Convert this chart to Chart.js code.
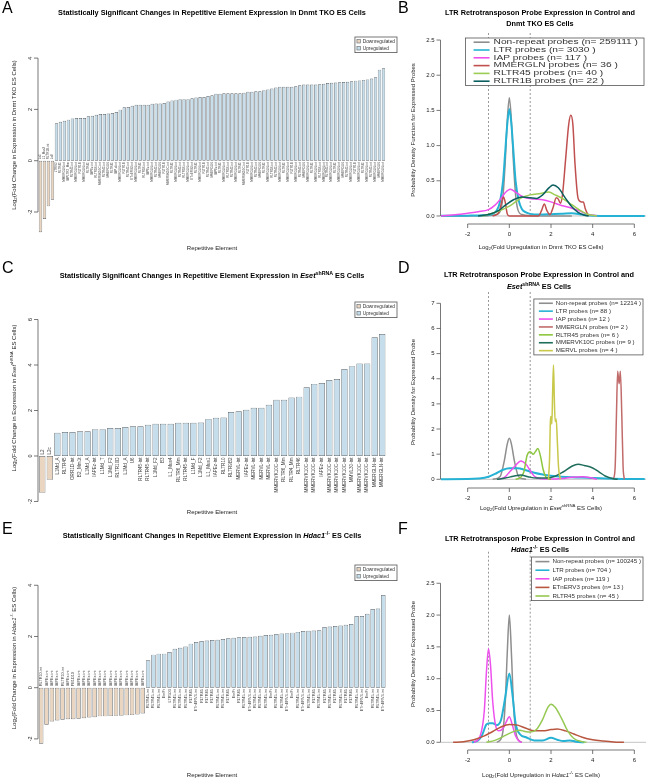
<!DOCTYPE html>
<html>
<head>
<meta charset="utf-8">
<title>Repetitive element expression</title>
<script src="https://cdn.jsdelivr.net/npm/chart.js@4.4.1/dist/chart.umd.min.js"></script>
<style>
  body { margin: 0; background: #fff; }
  .wrap { position: relative; width: 646px; height: 782px; overflow: hidden; }
  canvas { position: absolute; }
</style>
</head>
<body>
<div class="wrap">
  <canvas id="chartA" width="400" height="260" style="left:0;top:0"></canvas>
  <canvas id="chartB" width="251" height="260" style="left:395px;top:0"></canvas>
  <canvas id="chartC" width="400" height="260" style="left:0;top:260px"></canvas>
  <canvas id="chartD" width="251" height="260" style="left:395px;top:260px"></canvas>
  <canvas id="chartE" width="400" height="262" style="left:0;top:520px"></canvas>
  <canvas id="chartF" width="251" height="262" style="left:395px;top:520px"></canvas>
</div>
<script>
// ---------- Panel A: Dnmt TKO, significant repeat changes ----------
const aLabels = [
  'Lx5', 'L1_Mus3', 'RLTR1B-int', 'Lx8',
  'LTRIS2', 'RLTR45', 'MMERGLN-int', 'IAPLTR2_Mm', 'RLTR45-int', 'MMERGLN-int', 'RLTR1B', 'MMERGLN-int', 'RLTR45', 'IAPEz-int',
  'RLTR1B-int', 'MMERVK10C-int', 'RLTR45-int', 'MMERGLN', 'RLTR45', 'IAP-d-int', 'MMERGLN-int', 'RLTR1B', 'RLTR45-int', 'ETnERV3-int',
  'MMERGLN-int', 'RLTR45', 'RLTR1B-int', 'IAPEz-int', 'MMERGLN-int', 'RLTR45-int', 'MMERGLN', 'RLTR1B', 'MMERVK10C-int', 'RLTR45',
  'MMERGLN-int', 'RLTR45-int', 'RLTR1B-int', 'MMERGLN-int', 'ETnERV3-int', 'RLTR45', 'MMERGLN-int', 'RLTR1B', 'RLTR45-int', 'MMERGLN',
  'IAPEz-int', 'RLTR45', 'MMERGLN-int', 'RLTR1B-int', 'RLTR45-int', 'MMERGLN-int', 'RLTR45', 'MMERVK10C-int', 'RLTR1B', 'MMERGLN-int',
  'RLTR45-int', 'MMERGLN', 'RLTR45', 'MMERGLN-int', 'RLTR1B-int', 'RLTR45-int', 'MMERGLN-int', 'RLTR45', 'MMERGLN-int', 'RLTR1B',
  'MMERGLN-int', 'RLTR45-int', 'MMERGLN', 'MMERGLN-int', 'RLTR45', 'MMERGLN-int', 'RLTR1B-int', 'MMERGLN-int', 'RLTR45-int', 'MMERGLN-int',
  'RLTR45', 'MMERGLN-int', 'MMERGLN', 'RLTR45-int', 'MMERGLN-int', 'RLTR1B', 'MMERGLN-int', 'RLTR45', 'MMERGLN-int', 'RLTR45-int',
  'MMERGLN-int', 'MMERGLN', 'MMERGLN-int'
];
const aValues = [
  -2.79, -2.27, -1.78, -1.52,
  1.46, 1.52, 1.56, 1.60, 1.65, 1.66, 1.66, 1.66, 1.73, 1.75, 1.79, 1.82, 1.82, 1.84, 1.86, 1.90,
  1.99, 2.08, 2.09, 2.14, 2.18, 2.18, 2.18, 2.18, 2.22, 2.23, 2.23, 2.25, 2.31, 2.35, 2.38, 2.40,
  2.40, 2.40, 2.43, 2.46, 2.48, 2.48, 2.52, 2.55, 2.61, 2.61, 2.63, 2.63, 2.63, 2.63, 2.63, 2.65,
  2.69, 2.69, 2.71, 2.71, 2.75, 2.78, 2.81, 2.85, 2.88, 2.88, 2.88, 2.88, 2.90, 2.94, 2.97, 2.97,
  2.97, 2.97, 2.98, 3.00, 3.03,
  3.04, 3.05, 3.06, 3.07, 3.08, 3.10, 3.12, 3.13, 3.15, 3.17, 3.20, 3.25, 3.55, 3.60
];
const aTicks = [-2, 0, 2, 4];

// ---------- Panel C: Eset shRNA ----------
const cLabels = [
  'L2', 'L2c',
  'L1Md_A', 'RLTR45', 'ORR1D-int', 'B2_Mm1t', 'L1Md_A', 'IAPEz-int', 'L1Md_T', 'L1Md_F2', 'RLTR10D', 'L1Md_A', 'U6',
  'RLTR45-int', 'RLTR45-int', 'L1Md_F2', 'B3', 'L1_Mus4', 'RLTR6_Mm', 'RLTR45-int', 'L1Md_F', 'L1Md_F2', 'L1_Mus1',
  'IAPEz-int', 'RLTR10', 'RLTR9B2', 'MERVL-int', 'IAPEz-int', 'MERVL-int', 'MERVL-int', 'MERVL-int', 'MMERVK10C-int',
  'RLTR6_Mm', 'RLTR4_Mm', 'RLTR46', 'MMERVK10C-int', 'MMERVK10C-int', 'IAPEz-int', 'MMERVK10C-int', 'MMERVK10C-int',
  'MMERVK10C-int', 'MMVL30-int', 'MMERVK10C-int', 'MMERVK10C-int', 'MMERGLN-int', 'MMERGLN-int'
];
const cValues = [
  -1.62, -1.05,
  1.02, 1.05, 1.05, 1.09, 1.09, 1.18, 1.18, 1.23, 1.23, 1.27, 1.31,
  1.31, 1.37, 1.42, 1.42, 1.42, 1.46, 1.46, 1.46, 1.47, 1.63,
  1.68, 1.69, 1.93, 1.97, 2.03, 2.12, 2.12, 2.25, 2.47,
  2.47, 2.57, 2.61, 3.02, 3.17, 3.21, 3.34, 3.38,
  3.82, 3.95, 4.07, 4.07, 5.22, 5.36
];
const cTicks = [-2, 0, 2, 4, 6];

// ---------- Panel E: Hdac1 -/- ----------
const eLabels = [
  'RLTR10-int', 'IAPEz-int', 'IAPEz-int', 'IAPEz-int', 'RLTR10-int', 'IAPEz-int', 'PB1D10', 'IAPEz-int', 'IAPEz-int', 'IAPEz-int',
  'IAPEz-int', 'IAPEz-int', 'IAPEz-int', 'IAPEz-int', 'IAPEz-int', 'IAPEz-int', 'IAPEz-int', 'IAPEz-int', 'IAPEz-int', 'IAPEz-int',
  'RLTR45-int', 'RLTR45-int', 'RLTR45-int', 'EtnFt', 'LTR503', 'RLTR45-int', 'RLTR45-int', 'RLTR45-int', 'RLTR45', 'ETnERV3-int',
  'RLTR45', 'RLTR45', 'RLTR45', 'RLTR45-int', 'RLTR45-int', 'RLTR45', 'EtnFt', 'RLTR45', 'RLTR45-int', 'ETnERV3-int',
  'RLTR45-int', 'RLTR45-int', 'RLTR45-int', 'EtnFt', 'RLTR45-int', 'RLTR45-int', 'ETnERV3-int', 'EtnFt', 'RLTR45-int', 'ETnERV3-int',
  'RLTR45-int', 'RLTR45', 'RLTR45-int', 'RLTR45', 'RLTR45-int', 'RLTR45', 'RLTR45-int', 'RLTR45', 'RLTR45', 'RLTR45-int',
  'ETnERV3-int', 'EtnFt', 'RLTR45-int', 'RLTR45-int', 'ETnERV3-int'
];
const eValues = [
  -2.19, -1.45, -1.32, -1.28, -1.25, -1.23, -1.23, -1.21, -1.19, -1.16,
  -1.15, -1.12, -1.12, -1.11, -1.10, -1.10, -1.08, -1.07, -1.05, -1.01,
  1.07, 1.29, 1.33, 1.33, 1.39, 1.52, 1.56, 1.61, 1.72, 1.78,
  1.82, 1.84, 1.86, 1.87, 1.90, 1.93, 1.95, 1.97, 1.98, 1.99,
  2.00, 2.03, 2.06, 2.07, 2.10, 2.12, 2.13, 2.15, 2.18, 2.21,
  2.22, 2.23, 2.24, 2.37, 2.39, 2.41, 2.43, 2.46, 2.49, 2.80,
  2.80, 2.89, 3.07, 3.09, 3.62
];
const eTicks = [-2, 0, 2, 4];
const barLegendNames = ['Downregulated', 'Upregulated'];

// ---------- Density panels: [log2 fold change, density] ----------
const densXTicks = [-2, 0, 2, 4, 6];
const cutoffs = [-1, 1];

// B: Dnmt TKO
const bNonRepeat = [[-3.3, 0], [-1, 0.005], [-0.6, 0.02], [-0.4, 0.1], [-0.3, 0.3], [-0.2, 0.75], [-0.1, 1.35], [0, 1.68],
  [0.1, 1.35], [0.2, 0.75], [0.3, 0.3], [0.4, 0.1], [0.6, 0.02], [1, 0.005], [3, 0]];
const bLTR = [[-3.3, 0.003], [-2, 0.005], [-1.2, 0.01], [-0.8, 0.03], [-0.6, 0.08], [-0.45, 0.2], [-0.3, 0.5], [-0.2, 0.9],
  [-0.1, 1.3], [0, 1.52], [0.1, 1.3], [0.2, 0.9], [0.3, 0.5], [0.45, 0.22], [0.6, 0.1], [0.8, 0.05], [1.0, 0.03],
  [1.5, 0.02], [2, 0.025], [2.5, 0.03], [3, 0.04], [3.5, 0.02], [4, 0.005], [6.5, 0]];
const bIAP = [[-3.3, 0], [-2.5, 0.02], [-2, 0.04], [-1.5, 0.06], [-1.0, 0.09], [-0.7, 0.15], [-0.4, 0.25], [-0.2, 0.33],
  [0.05, 0.38], [0.3, 0.34], [0.6, 0.28], [0.9, 0.25], [1.2, 0.24], [1.6, 0.23], [2.0, 0.2], [2.5, 0.15], [3.0, 0.11],
  [3.4, 0.07], [3.7, 0.03], [4.2, 0.005]];
const bMMERGLN = [[-0.8, 0], [-0.5, 0.05], [-0.35, 0.22], [-0.28, 0.27], [-0.2, 0.2], [-0.1, 0.03], [0, 0], [1.4, 0],
  [1.55, 0.08], [1.68, 0.17], [1.8, 0.08], [1.95, 0.02], [2.1, 0.12], [2.25, 0.26], [2.35, 0.24], [2.45, 0.18],
  [2.55, 0.3], [2.7, 0.8], [2.85, 1.3], [2.95, 1.43], [3.05, 1.3], [3.15, 0.75], [3.3, 0.25], [3.45, 0.2],
  [3.55, 0.2], [3.65, 0.1], [3.8, 0]];
const bRLTR45 = [[-1.3, 0], [-1, 0.02], [-0.5, 0.07], [0, 0.14], [0.3, 0.2], [0.6, 0.26], [1.0, 0.3], [1.5, 0.32],
  [1.9, 0.34], [2.2, 0.3], [2.6, 0.24], [3.0, 0.16], [3.4, 0.08], [3.8, 0.02], [4.2, 0]];
const bRLTR1B = [[-1.5, 0], [-1, 0.02], [-0.5, 0.08], [-0.2, 0.15], [0.2, 0.23], [0.6, 0.27], [1.0, 0.26], [1.3, 0.25],
  [1.6, 0.3], [1.9, 0.4], [2.1, 0.44], [2.35, 0.4], [2.7, 0.25], [3.0, 0.13], [3.3, 0.05], [3.6, 0.01], [3.8, 0]];
const bNames = ['Non-repeat probes (n= 259111 )', 'LTR probes (n= 3030 )', 'IAP probes (n= 117 )',
  'MMERGLN probes (n= 36 )', 'RLTR45 probes (n= 40 )', 'RLTR1B probes (n= 22 )'];

// D: Eset shRNA
const dNonRepeat = [[-0.8, 0], [-0.45, 0.1], [-0.25, 0.7], [-0.1, 1.4], [0, 1.63], [0.1, 1.4], [0.25, 0.7], [0.45, 0.1], [0.8, 0]];
const dLTR = [[-3.3, 0.005], [-2, 0.01], [-1.5, 0.03], [-1, 0.1], [-0.6, 0.25], [-0.3, 0.38], [0, 0.44], [0.4, 0.44],
  [0.8, 0.36], [1.2, 0.26], [1.6, 0.19], [2, 0.14], [2.5, 0.1], [3, 0.08], [3.5, 0.07], [4, 0.05], [5, 0.02], [6.5, 0.01]];
const dIAP = [[-0.5, 0], [-0.2, 0.1], [0, 0.28], [0.3, 0.55], [0.55, 0.73], [0.8, 0.6], [1.0, 0.35], [1.2, 0.12],
  [1.5, 0.02], [2, 0.01], [2.5, 0.03], [3, 0.08], [3.5, 0.1], [3.9, 0.06], [4.2, 0]];
const dMMERGLN = [[5.0, 0], [5.08, 0.5], [5.14, 2.5], [5.2, 4.3], [5.27, 3.8], [5.33, 4.3], [5.4, 2.5], [5.46, 0.5], [5.52, 0]];
const dRLTR45 = [[0.3, 0], [0.5, 0.05], [0.7, 0.3], [0.85, 0.95], [1.0, 1.1], [1.15, 1.0], [1.25, 1.1], [1.37, 1.23],
  [1.5, 0.9], [1.62, 0.4], [1.75, 0.1], [1.9, 0.01], [2.0, 0]];
const dMMERVK10C = [[-0.6, 0], [-0.2, 0.05], [0.2, 0.12], [0.55, 0.17], [0.9, 0.1], [1.3, 0.05], [1.8, 0.05], [2.2, 0.12],
  [2.6, 0.3], [3.0, 0.52], [3.3, 0.6], [3.6, 0.55], [4.0, 0.45], [4.3, 0.3], [4.6, 0.13], [5.0, 0.02], [5.2, 0]];
const dMERVL = [[1.88, 0], [1.93, 0.8], [1.97, 2.3], [2.0, 2.5], [2.04, 2.2], [2.08, 3.5], [2.12, 4.55], [2.16, 3.2],
  [2.2, 2.3], [2.25, 2.4], [2.3, 1.6], [2.36, 0.5], [2.45, 0]];
const dNames = ['Non-repeat probes (n= 12214 )', 'LTR probes (n= 88 )', 'IAP probes (n= 12 )', 'MMERGLN probes (n= 2 )',
  'RLTR45 probes (n= 6 )', 'MMERVK10C probes (n= 9 )', 'MERVL probes (n= 4 )'];

// F: Hdac1 -/-
const fNonRepeat = [[-0.6, 0], [-0.35, 0.1], [-0.2, 0.6], [-0.1, 1.4], [0, 2.0], [0.1, 1.4], [0.2, 0.6], [0.35, 0.1], [0.6, 0]];
const fLTR = [[-1.8, 0], [-1.5, 0.03], [-1.3, 0.12], [-1.1, 0.28], [-0.95, 0.3], [-0.8, 0.3], [-0.6, 0.27], [-0.4, 0.35],
  [-0.2, 0.7], [0, 1.08], [0.15, 0.75], [0.3, 0.3], [0.5, 0.13], [0.8, 0.08], [1.2, 0.03], [1.6, 0.03], [2.0, 0.07],
  [2.3, 0.04], [2.6, 0.02], [2.9, 0.03], [3.2, 0.01], [3.6, 0]];
const fIAP = [[-1.7, 0], [-1.4, 0.1], [-1.2, 0.5], [-1.1, 1.1], [-1.0, 1.47], [-0.9, 1.2], [-0.8, 0.65], [-0.65, 0.25],
  [-0.5, 0.18], [-0.3, 0.22], [-0.15, 0.32], [0, 0.4], [0.12, 0.3], [0.3, 0.1], [0.5, 0.01], [0.6, 0]];
const fETnERV3 = [[-2.7, 0], [-2.2, 0.01], [-1.7, 0.04], [-1.2, 0.1], [-0.8, 0.17], [-0.4, 0.24], [0, 0.28], [0.4, 0.27],
  [0.8, 0.22], [1.2, 0.18], [1.6, 0.18], [2.0, 0.2], [2.3, 0.21], [2.7, 0.18], [3.1, 0.13], [3.5, 0.08], [4.0, 0.04],
  [4.5, 0.02], [5.0, 0.005], [5.5, 0]];
const fRLTR45 = [[-1.1, 0], [-0.7, 0.03], [-0.3, 0.09], [0, 0.14], [0.3, 0.18], [0.5, 0.19], [0.75, 0.17], [1.0, 0.16],
  [1.3, 0.2], [1.6, 0.36], [1.85, 0.55], [2.0, 0.6], [2.2, 0.55], [2.5, 0.38], [2.8, 0.18], [3.1, 0.06], [3.5, 0.01], [3.7, 0]];
const fNames = ['Non-repeat probes (n= 100245 )', 'LTR probes (n= 704 )', 'IAP probes (n= 119 )',
  'ETnERV3 probes (n= 13 )', 'RLTR45 probes (n= 45 )'];

// ---------- Styles ----------
const FONT = '"Liberation Sans", Arial, Helvetica, sans-serif';
const DOWN = '#ead5c0';
const UP = '#c6deeb';
const BAR_EDGE = '#5d6469';
const GRAY = '#8e8e8e', CYAN = '#26b2d4', MAGENTA = '#ee50ee';

// Tiny markup: *italic*, _{sub}, ^{sup}
function parseRich(str) {
  const segs = [];
  let buf = '', italic = false, i = 0;
  const push = (t, mode) => { if (t) segs.push({ t, it: italic, mode }); };
  while (i < str.length) {
    const c = str[i];
    if (c === '*') { push(buf, 0); buf = ''; italic = !italic; i++; }
    else if ((c === '_' || c === '^') && str[i + 1] === '{') {
      push(buf, 0); buf = '';
      const end = str.indexOf('}', i);
      push(str.slice(i + 2, end), c === '_' ? -1 : 1);
      i = end + 1;
    } else { buf += c; i++; }
  }
  push(buf, 0);
  return segs;
}

function drawRich(ctx, str, x, y, size, o) {
  o = o || {};
  const segs = parseRich(str);
  const fontFor = s => (s.it ? 'italic ' : '') + (o.bold ? 'bold ' : '') + (s.mode ? size * 0.72 : size) + 'px ' + FONT;
  let w = 0;
  segs.forEach(s => { ctx.font = fontFor(s); s.w = ctx.measureText(s.t).width; w += s.w; });
  ctx.save();
  ctx.translate(x, y);
  if (o.rotate) ctx.rotate(-Math.PI / 2);
  if (o.sx) ctx.scale(o.sx, 1);
  ctx.fillStyle = o.color || '#222';
  ctx.textBaseline = 'middle';
  ctx.textAlign = 'left';
  let cx = o.align === 'left' ? 0 : o.align === 'right' ? -w : -w / 2;
  segs.forEach(s => {
    ctx.font = fontFor(s);
    ctx.fillText(s.t, cx, s.mode > 0 ? -size * 0.4 : s.mode < 0 ? size * 0.3 : 0);
    cx += s.w;
  });
  ctx.restore();
}

function seg(ctx, x1, y1, x2, y2) {
  ctx.beginPath(); ctx.moveTo(x1, y1); ctx.lineTo(x2, y2); ctx.stroke();
}

function drawLegend(ctx, lg) {
  ctx.save();
  ctx.font = lg.size + 'px ' + FONT;
  const sx = lg.sx || 1;
  const tw = Math.max(...lg.names.map(n => ctx.measureText(n).width)) * sx;
  const w = lg.padL + lg.keyW + lg.gap + tw + lg.padR;
  const h = lg.names.length * lg.rowH + 2 * lg.padY;
  const left = lg.right - w;
  ctx.fillStyle = '#fff';
  ctx.fillRect(left, lg.top, w, h);
  ctx.strokeStyle = '#555'; ctx.lineWidth = 0.8;
  ctx.strokeRect(left, lg.top, w, h);
  lg.names.forEach((name, i) => {
    const cy = lg.top + lg.padY + lg.rowH * (i + 0.5);
    const kx = left + lg.padL;
    if (lg.kind === 'line') {
      ctx.strokeStyle = lg.colors[i]; ctx.lineWidth = 1.6;
      seg(ctx, kx, cy, kx + lg.keyW, cy);
    } else {
      ctx.fillStyle = lg.colors[i];
      ctx.fillRect(kx, cy - lg.keyW / 2, lg.keyW, lg.keyW);
      ctx.strokeStyle = BAR_EDGE; ctx.lineWidth = 0.6;
      ctx.strokeRect(kx, cy - lg.keyW / 2, lg.keyW, lg.keyW);
    }
    ctx.save();
    ctx.translate(kx + lg.keyW + lg.gap, cy);
    ctx.scale(sx, 1);
    ctx.fillStyle = '#333'; ctx.textBaseline = 'middle'; ctx.textAlign = 'left';
    ctx.fillText(name, 0, 0);
    ctx.restore();
  });
  ctx.restore();
}

// R-style axes, labels, legends, reference lines for one panel
function decor(cfg) {
  return {
    id: 'decor' + cfg.letter,
    beforeDatasetsDraw(chart) {
      if (!cfg.cutoffs) return;
      const { ctx, chartArea: ca, scales: { x, y } } = chart;
      const y0 = y.getPixelForValue(0);
      ctx.save();
      ctx.strokeStyle = '#b4b4b4'; ctx.lineWidth = 0.8;
      seg(ctx, ca.left, y0, ca.right, y0);
      ctx.strokeStyle = '#808080'; ctx.setLineDash([2, 2]);
      cfg.cutoffs.forEach(v => {
        const px = x.getPixelForValue(v);
        seg(ctx, px, ca.top, px, y0);
      });
      ctx.restore();
    },
    afterDraw(chart) {
      const { ctx, chartArea: ca, scales: { x, y } } = chart;
      ctx.save();
      ctx.strokeStyle = '#555'; ctx.lineWidth = 0.8;

      // y axis
      const ax = ca.left - 0.5;
      const yp = cfg.yTicks.map(v => y.getPixelForValue(v));
      seg(ctx, ax, Math.min(...yp), ax, Math.max(...yp));
      cfg.yTicks.forEach((v, i) => {
        seg(ctx, ax - 4, yp[i], ax, yp[i]);
        if (cfg.yRot) drawRich(ctx, v.toFixed(cfg.yDec), ax - 8, yp[i], cfg.tickSize, { rotate: true });
        else drawRich(ctx, v.toFixed(cfg.yDec), ax - 6, yp[i], cfg.tickSize, { align: 'right' });
      });

      // x axis (density panels)
      if (cfg.xTicks) {
        const by = ca.bottom;
        const xp = cfg.xTicks.map(v => x.getPixelForValue(v));
        seg(ctx, Math.min(...xp), by, Math.max(...xp), by);
        cfg.xTicks.forEach((v, i) => {
          seg(ctx, xp[i], by, xp[i], by + 4);
          drawRich(ctx, String(v), xp[i], by + 10, cfg.tickSize);
        });
      }

      // names under / over bars
      if (cfg.nameSize) {
        const meta = chart.getDatasetMeta(0);
        const vals = chart.data.datasets[0].data;
        const y0 = y.getPixelForValue(0);
        ctx.fillStyle = '#444';
        ctx.font = cfg.nameSize + 'px ' + FONT;
        ctx.textBaseline = 'middle';
        meta.data.forEach((bar, i) => {
          ctx.save();
          ctx.translate(bar.x, vals[i] >= 0 ? y0 + 1.5 : y0 - 1.5);
          ctx.rotate(-Math.PI / 2);
          ctx.textAlign = vals[i] >= 0 ? 'right' : 'left';
          ctx.fillText(chart.data.labels[i], 0, 0);
          ctx.restore();
        });
      }

      // texts
      drawRich(ctx, cfg.letter, cfg.letterPos[0], cfg.letterPos[1], 16, { align: 'left', color: '#000' });
      cfg.title.forEach((t, i) => drawRich(ctx, t, cfg.titleX, cfg.titleY[i], 7.3, { bold: true, color: '#000' }));
      drawRich(ctx, cfg.xlab, cfg.xlabPos[0], cfg.xlabPos[1], 6);
      drawRich(ctx, cfg.ylab, cfg.ylabPos[0], cfg.ylabPos[1], 6, { rotate: true });

      drawLegend(ctx, cfg.legend);
      ctx.restore();
    }
  };
}

function barPanel(id, labels, values, yRange, padding, cfg) {
  return new Chart(document.getElementById(id), {
    type: 'bar',
    data: {
      labels: labels,
      datasets: [{
        data: values,
        backgroundColor: values.map(v => v < 0 ? DOWN : UP),
        borderColor: BAR_EDGE,
        borderWidth: 0.7,
        borderSkipped: false,
        barPercentage: 0.84,
        categoryPercentage: 1
      }]
    },
    options: {
      responsive: false,
      animation: false,
      devicePixelRatio: 1,
      layout: { padding: padding },
      plugins: { legend: { display: false }, tooltip: { enabled: false } },
      scales: {
        x: { display: false },
        y: { display: false, min: yRange[0], max: yRange[1] }
      }
    },
    plugins: [decor(cfg)]
  });
}

function densityPanel(id, series, colors, yRange, padding, cfg) {
  return new Chart(document.getElementById(id), {
    type: 'scatter',
    data: {
      datasets: series.map((pts, i) => ({
        data: pts.map(p => ({ x: p[0], y: p[1] })),
        showLine: true,
        fill: false,
        borderColor: colors[i],
        borderWidth: i === 1 ? 2 : 1.5,
        pointRadius: 0,
        cubicInterpolationMode: 'monotone',
        order: series.length - i
      }))
    },
    options: {
      responsive: false,
      animation: false,
      devicePixelRatio: 1,
      layout: { padding: padding },
      plugins: { legend: { display: false }, tooltip: { enabled: false } },
      scales: {
        x: { type: 'linear', display: false, min: -3.28, max: 6.56 },
        y: { display: false, min: yRange[0], max: yRange[1] }
      }
    },
    plugins: [decor(cfg)]
  });
}

const barLegend = (top) => ({
  kind: 'box', right: 397, top: top, size: 4.8, rowH: 7, padY: 0.8, padL: 2, keyW: 3.4, gap: 2.4, padR: 2,
  names: barLegendNames, colors: [DOWN, UP]
});

// A
barPanel('chartA', aLabels, aValues, [-3.2, 4.3], { left: 38.5, right: 14.5, top: 50.4, bottom: 17.2 }, {
  letter: 'A', letterPos: [2, 9],
  title: ['Statistically Significant Changes in Repetitive Element Expression in Dnmt TKO ES Cells'], titleX: 212, titleY: [13],
  xlab: 'Repetitive Element', xlabPos: [212, 248],
  ylab: 'Log_{2}(Fold Change in Expression in Dnmt TKO ES Cells)', ylabPos: [14, 135],
  yTicks: aTicks, yDec: 0, yRot: true, tickSize: 5.5, nameSize: 3,
  legend: barLegend(37)
});

// B
densityPanel('chartB', [bNonRepeat, bLTR, bIAP, bMMERGLN, bRLTR45, bRLTR1B],
  [GRAY, CYAN, MAGENTA, '#c0504f', '#9ccc54', '#0b5f5f'],
  [-0.114, 2.6], { left: 46, right: 0, top: 33, bottom: 36 }, {
  letter: 'B', letterPos: [3, 9],
  title: ['LTR Retrotransposon Probe Expression in Control and', 'Dnmt TKO ES Cells'], titleX: 145, titleY: [13, 24],
  xlab: 'Log_{2}(Fold Upregulation in Dnmt TKO ES Cells)', xlabPos: [146, 247],
  ylab: 'Probability Density Function for Expressed Probes', ylabPos: [18, 130],
  yTicks: [0, 0.5, 1, 1.5, 2, 2.5], yDec: 1, tickSize: 6, xTicks: densXTicks, cutoffs: cutoffs,
  legend: { kind: 'line', right: 249, top: 38, size: 6.8, sx: 1.5, rowH: 7.8, padY: 0.3, padL: 8, keyW: 16, gap: 4, padR: 6,
    names: bNames, colors: [GRAY, CYAN, MAGENTA, '#c0504f', '#9ccc54', '#0b5f5f'] }
});

// C
barPanel('chartC', cLabels, cValues, [-2.3, 6.3], { left: 38.5, right: 14, top: 52.7, bottom: 11.7 }, {
  letter: 'C', letterPos: [2, 9],
  title: ['Statistically Significant Changes in Repetitive Element Expression in *Eset*^{shRNA} ES Cells'], titleX: 212, titleY: [16],
  xlab: 'Repetitive Element', xlabPos: [212, 252],
  ylab: 'Log_{2}(Fold Change in Expression in *Eset*^{shRNA} ES Cells)', ylabPos: [14, 138],
  yTicks: cTicks, yDec: 0, yRot: true, tickSize: 5.5, nameSize: 4.6,
  legend: barLegend(42)
});

// D
densityPanel('chartD', [dNonRepeat, dLTR, dIAP, dMMERGLN, dRLTR45, dMMERVK10C, dMERVL],
  [GRAY, CYAN, MAGENTA, '#c26b6b', '#8cc63f', '#1f6d5c', '#c8c84a'],
  [-0.346, 7.45], { left: 46, right: 0, top: 32, bottom: 32 }, {
  letter: 'D', letterPos: [3, 9],
  title: ['LTR Retrotransposon Probe Expression in Control and', '*Eset*^{shRNA} ES Cells'], titleX: 144, titleY: [15, 27],
  xlab: 'Log_{2}(Fold Upregulation in *Eset*^{shRNA} ES Cells)', xlabPos: [146, 248],
  ylab: 'Probability Density for Expressed Probe', ylabPos: [18, 132],
  yTicks: [0, 1, 2, 3, 4, 5, 6, 7], yDec: 0, tickSize: 6, xTicks: densXTicks, cutoffs: cutoffs,
  legend: { kind: 'line', right: 248, top: 39, size: 6.2, rowH: 7.9, padY: 0.3, padL: 5, keyW: 14, gap: 3, padR: 2,
    names: dNames, colors: [GRAY, CYAN, MAGENTA, '#c26b6b', '#8cc63f', '#1f6d5c', '#c8c84a'] }
});

// E
barPanel('chartE', eLabels, eValues, [-2.5, 4.3], { left: 38.5, right: 14, top: 57.6, bottom: 30.3 }, {
  letter: 'E', letterPos: [2, 10],
  title: ['Statistically Significant Changes in Repetitive Element Expression in *Hdac1*^{-/-} ES Cells'], titleX: 212, titleY: [16],
  xlab: 'Repetitive Element', xlabPos: [212, 255],
  ylab: 'Log_{2}(Fold Change in Expression in *Hdac1*^{-/-} ES Cells)', ylabPos: [14, 138],
  yTicks: eTicks, yDec: 0, yRot: true, tickSize: 5.5, nameSize: 3.8,
  legend: barLegend(45)
});

// F
densityPanel('chartF', [fNonRepeat, fLTR, fIAP, fETnERV3, fRLTR45],
  [GRAY, CYAN, MAGENTA, '#b8563f', '#96c954'],
  [-0.121, 2.996], { left: 46, right: 0, top: 31.7, bottom: 32 }, {
  letter: 'F', letterPos: [3, 10],
  title: ['LTR Retrotransposon Probe Expression in Control and', '*Hdac1*^{-/-} ES Cells'], titleX: 145, titleY: [19, 30],
  xlab: 'Log_{2}(Fold Upregulation in *Hdac1*^{-/-} ES Cells)', xlabPos: [146, 255],
  ylab: 'Probability Density for Expressed Probe', ylabPos: [18, 134],
  yTicks: [0, 0.5, 1, 1.5, 2, 2.5], yDec: 1, tickSize: 6, xTicks: densXTicks, cutoffs: cutoffs,
  legend: { kind: 'line', right: 248, top: 37, size: 6.2, rowH: 8.6, padY: 0.3, padL: 4, keyW: 14, gap: 3, padR: 2,
    names: fNames, colors: [GRAY, CYAN, MAGENTA, '#b8563f', '#96c954'] }
});
</script>
</body>
</html>
